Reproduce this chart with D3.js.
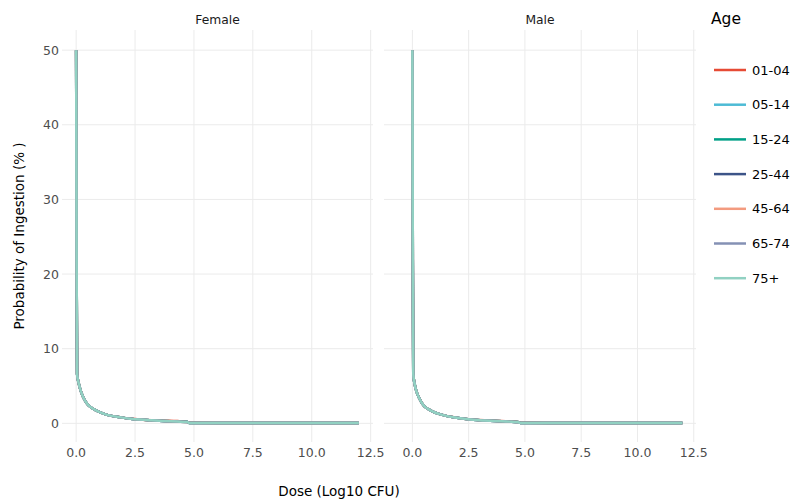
<!DOCTYPE html>
<html>
<head>
<meta charset="utf-8">
<script src="https://cdn.jsdelivr.net/npm/d3@7"></script>
<style>
    body { margin: 0; background: #fff; }
    text { font-family: "DejaVu Sans", Verdana, sans-serif; }
</style>
</head>
<body>
<div id="chart"></div>
<script>
const ages = ['01-04', '05-14', '15-24', '25-44', '45-64', '65-74', '75+'];
const ageColors = ['#E64B35', '#4DBBD5', '#00A087', '#3C5488', '#F39B7F', '#8491B4', '#91D1C2'];

const doses = [0, 0.01, 0.02, 0.04, 0.1, 0.2, 0.3, 0.45, 0.6, 0.8, 1, 1.25, 1.5, 1.9, 2.3, 2.7, 3.2, 3.7, 4.3, 4.7, 4.8, 6, 8, 10, 12];

// one row per age group, same order as ages
const femaleValues = [
    [50, 38, 22, 6.7, 5.5, 4.3, 3.5, 2.7, 2.2, 1.8, 1.5, 1.2, 1.0, 0.8, 0.64, 0.52, 0.42, 0.36, 0.3, 0.2, 0.08, 0.06, 0.05, 0.05, 0.05],
    [50, 38, 22, 6.6, 5.5, 4.3, 3.5, 2.7, 2.2, 1.8, 1.5, 1.2, 1.0, 0.8, 0.62, 0.5, 0.4, 0.32, 0.26, 0.2, 0.06, 0.05, 0.05, 0.05, 0.05],
    [50, 38, 22, 6.6, 5.5, 4.3, 3.5, 2.7, 2.2, 1.8, 1.5, 1.2, 1.0, 0.8, 0.62, 0.5, 0.4, 0.32, 0.25, 0.2, 0.06, 0.05, 0.05, 0.05, 0.05],
    [50, 38, 22, 6.6, 5.5, 4.3, 3.5, 2.7, 2.2, 1.8, 1.5, 1.2, 1.0, 0.8, 0.62, 0.5, 0.4, 0.32, 0.24, 0.19, 0.06, 0.05, 0.05, 0.05, 0.05],
    [50, 38, 22, 6.6, 5.5, 4.3, 3.5, 2.7, 2.2, 1.8, 1.5, 1.2, 1.0, 0.8, 0.62, 0.5, 0.4, 0.32, 0.24, 0.19, 0.06, 0.05, 0.05, 0.05, 0.05],
    [50, 38, 22, 6.6, 5.5, 4.3, 3.5, 2.7, 2.2, 1.8, 1.5, 1.2, 1.0, 0.8, 0.62, 0.5, 0.4, 0.32, 0.24, 0.19, 0.06, 0.05, 0.05, 0.05, 0.05],
    [50, 38, 22, 6.6, 5.5, 4.3, 3.5, 2.7, 2.2, 1.8, 1.5, 1.2, 1.0, 0.8, 0.62, 0.5, 0.4, 0.32, 0.24, 0.18, 0.06, 0.05, 0.05, 0.05, 0.05],
];
const maleValues = [
    [50, 38, 22, 6.7, 5.3, 4.1, 3.4, 2.6, 2.1, 1.75, 1.45, 1.2, 1.0, 0.8, 0.62, 0.5, 0.4, 0.34, 0.28, 0.18, 0.08, 0.06, 0.05, 0.05, 0.05],
    [50, 38, 22, 6.6, 5.3, 4.1, 3.4, 2.6, 2.1, 1.75, 1.45, 1.2, 1.0, 0.78, 0.6, 0.48, 0.38, 0.3, 0.24, 0.17, 0.06, 0.05, 0.05, 0.05, 0.05],
    [50, 38, 22, 6.6, 5.3, 4.1, 3.4, 2.6, 2.1, 1.75, 1.45, 1.2, 1.0, 0.78, 0.6, 0.48, 0.38, 0.3, 0.24, 0.17, 0.06, 0.05, 0.05, 0.05, 0.05],
    [50, 38, 22, 6.6, 5.3, 4.1, 3.4, 2.6, 2.1, 1.75, 1.45, 1.2, 1.0, 0.78, 0.6, 0.48, 0.38, 0.3, 0.23, 0.16, 0.06, 0.05, 0.05, 0.05, 0.05],
    [50, 38, 22, 6.6, 5.3, 4.1, 3.4, 2.6, 2.1, 1.75, 1.45, 1.2, 1.0, 0.78, 0.6, 0.48, 0.38, 0.3, 0.23, 0.16, 0.06, 0.05, 0.05, 0.05, 0.05],
    [50, 38, 22, 6.6, 5.3, 4.1, 3.4, 2.6, 2.1, 1.75, 1.45, 1.2, 1.0, 0.78, 0.6, 0.48, 0.38, 0.3, 0.23, 0.16, 0.06, 0.05, 0.05, 0.05, 0.05],
    [50, 38, 22, 6.6, 5.3, 4.1, 3.4, 2.6, 2.1, 1.75, 1.45, 1.2, 1.0, 0.78, 0.6, 0.48, 0.38, 0.3, 0.23, 0.16, 0.06, 0.05, 0.05, 0.05, 0.05],
];

const xTicks = [0, 2.5, 5, 7.5, 10, 12.5];
const yTicks = [0, 10, 20, 30, 40, 50];

const width = 792;
const height = 500;
const plotTop = 30;
const plotBottom = 442;

const panels = [
    { title: 'Female', values: femaleValues, left: 62, right: 373, domain: [-0.6, 12.6] },
    { title: 'Male', values: maleValues, left: 384, right: 696, domain: [-1.26, 12.6] },
];

const svg = d3.select('#chart')
    .append('svg')
    .attr('width', width)
    .attr('height', height);

const y = d3.scaleLinear()
    .domain([-2.5, 52.7])
    .range([plotBottom, plotTop]);

panels.forEach((p, pi) => {
    const x = d3.scaleLinear()
        .domain(p.domain)
        .range([p.left, p.right]);

    const g = svg.append('g');

    // grid
    g.selectAll('.hgrid')
        .data(yTicks)
        .join('line')
        .attr('x1', p.left)
        .attr('x2', p.right)
        .attr('y1', d => y(d))
        .attr('y2', d => y(d))
        .attr('stroke', '#ebebeb')
        .attr('stroke-width', 1);

    g.selectAll('.vgrid')
        .data(xTicks)
        .join('line')
        .attr('x1', d => x(d))
        .attr('x2', d => x(d))
        .attr('y1', plotTop)
        .attr('y2', plotBottom)
        .attr('stroke', '#ebebeb')
        .attr('stroke-width', 1);

    // x tick labels
    g.selectAll('.xlab')
        .data(xTicks)
        .join('text')
        .attr('x', d => x(d))
        .attr('y', 457)
        .attr('text-anchor', 'middle')
        .attr('font-size', 12.5)
        .attr('fill', '#4d4d4d')
        .text(d => d3.format('.1f')(d));

    if (pi === 0) {
        g.selectAll('.ylab')
            .data(yTicks)
            .join('text')
            .attr('x', 59)
            .attr('y', d => y(d))
            .attr('dy', '0.36em')
            .attr('text-anchor', 'end')
            .attr('font-size', 12.5)
            .attr('fill', '#4d4d4d')
            .text(d => d);
    }

    // strip title
    g.append('text')
        .attr('x', (p.left + p.right) / 2)
        .attr('y', 24)
        .attr('text-anchor', 'middle')
        .attr('font-size', 12.3)
        .attr('fill', '#1a1a1a')
        .text(p.title);

    const line = d3.line()
        .x((d, i) => x(doses[i]))
        .y(d => y(d))
        .curve(d3.curveMonotoneX);

    g.selectAll('.series')
        .data(p.values)
        .join('path')
        .attr('d', line)
        .attr('fill', 'none')
        .attr('stroke', (d, i) => ageColors[i])
        .attr('stroke-width', 2.5)
        .attr('stroke-linejoin', 'round');
});

// axis titles
svg.append('text')
    .attr('x', 339)
    .attr('y', 496)
    .attr('text-anchor', 'middle')
    .attr('font-size', 13.5)
    .attr('fill', '#000')
    .text('Dose (Log10 CFU)');

svg.append('text')
    .attr('transform', 'translate(24,236) rotate(-90)')
    .attr('text-anchor', 'middle')
    .attr('font-size', 13.5)
    .attr('fill', '#000')
    .text('Probability of Ingestion (% )');

// legend
const legend = svg.append('g');

legend.append('text')
    .attr('x', 711)
    .attr('y', 24)
    .attr('font-size', 15.5)
    .attr('fill', '#000')
    .text('Age');

const items = legend.selectAll('.item')
    .data(ages)
    .join('g')
    .attr('transform', (d, i) => `translate(0,${70 + i * 34.7})`);

items.append('line')
    .attr('x1', 714)
    .attr('x2', 746)
    .attr('stroke', (d, i) => ageColors[i])
    .attr('stroke-width', 2.5);

items.append('text')
    .attr('x', 752)
    .attr('dy', '0.36em')
    .attr('font-size', 13)
    .attr('fill', '#000')
    .text(d => d);
</script>
</body>
</html>
